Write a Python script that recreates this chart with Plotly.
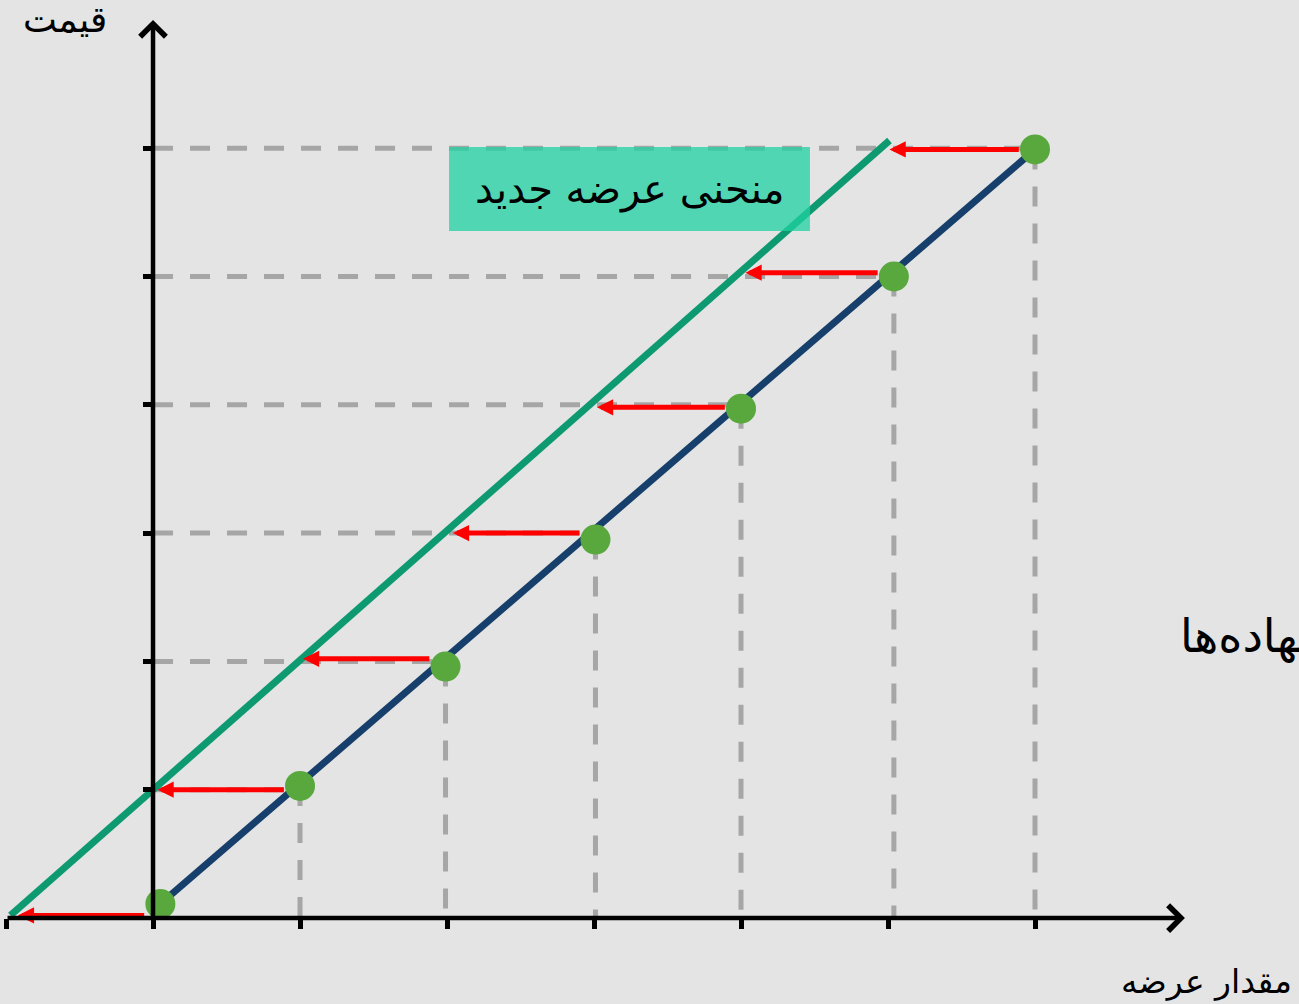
import plotly.graph_objects as go

# ---------------- data ----------------
qty = [0.05, 1.0, 1.99, 3.01, 4.0, 5.04, 6.0]          # old supply points (x)
price = [0.11, 1.03, 1.96, 2.95, 3.97, 5.0, 5.99]      # old supply points (y)
qty_ticks = [-1, 0, 1, 2, 3, 4, 5, 6]
price_ticks = [1, 2, 3, 4, 5, 6]
arrow_price = [0.02, 1.0, 2.02, 3.0, 3.98, 5.03, 5.99]  # y of red shift arrows
new_qty = [-0.92, 0.03, 1.02, 2.04, 3.02, 4.03, 5.01]   # arrow heads on new curve
new_supply_x = [-0.97, 5.01]
new_supply_y = [0.02, 6.06]
x_axis_end = 7.02
y_axis_end = 7.0

label_price = "قیمت"
label_qty = "مقدار عرضه"
label_new = "منحنی عرضه جدید"
label_inputs = "نهاده\u200cها"

# ---------------- layout constants ----------------
W, H = 1299, 1004
XR = [-1.041, 7.796]
YR = [-0.670, 7.155]
BG = "#e4e4e4"
FONT = "DejaVu Sans"


def px(p):
    return p / W


def py(p):
    return 1 - p / H


fig = go.Figure()

dash = "20px,17px"
guide_color = "#a6a6a6"

# horizontal dashed guides at price tick levels
for i, t in enumerate(price_ticks):
    fig.add_trace(go.Scatter(x=[0, qty[i + 1]], y=[t, t], mode="lines",
                             line=dict(color=guide_color, width=5, dash=dash),
                             hoverinfo="skip", showlegend=False))
# vertical dashed guides
for i in range(1, len(qty)):
    fig.add_trace(go.Scatter(x=[qty[i], qty[i]], y=[price[i], 0], mode="lines",
                             line=dict(color=guide_color, width=5, dash=dash),
                             hoverinfo="skip", showlegend=False))

# new supply curve
fig.add_trace(go.Scatter(x=new_supply_x, y=new_supply_y, mode="lines",
                         line=dict(color="#0e9a70", width=7),
                         hoverinfo="skip", showlegend=False))
# old supply curve
fig.add_trace(go.Scatter(x=[qty[0], qty[-1]], y=[price[0], price[-1]], mode="lines",
                         line=dict(color="#173f6b", width=7),
                         hoverinfo="skip", showlegend=False))

annotations = []
# red shift arrows
for i in range(len(qty)):
    annotations.append(dict(
        x=new_qty[i], y=arrow_price[i], ax=qty[i] - 0.1, ay=arrow_price[i],
        xref="x", yref="y", axref="x", ayref="y", text="", showarrow=True,
        arrowhead=2, arrowsize=0.65, arrowwidth=5, arrowcolor="#ff0000"))

# points
fig.add_trace(go.Scatter(x=qty, y=price, mode="markers",
                         marker=dict(color="#58a83e", size=30, line=dict(width=0)),
                         hoverinfo="skip", showlegend=False))

# axes with chevron heads
annotations.append(dict(x=x_axis_end, y=0, ax=qty_ticks[0], ay=0,
                        xref="x", yref="y", axref="x", ayref="y", text="",
                        showarrow=True, arrowhead=4, arrowsize=1.1, arrowwidth=4.5,
                        arrowcolor="black"))
annotations.append(dict(x=0, y=y_axis_end, ax=0, ay=0,
                        xref="x", yref="y", axref="x", ayref="y", text="",
                        showarrow=True, arrowhead=4, arrowsize=1.1, arrowwidth=4.5,
                        arrowcolor="black"))

# text labels
annotations.append(dict(x=px(65), y=py(20), xref="paper", yref="paper",
                        text=label_price, showarrow=False,
                        xanchor="center", yanchor="middle",
                        font=dict(family=FONT, size=36, color="black")))
annotations.append(dict(x=px(1294), y=py(981), xref="paper", yref="paper",
                        text=label_qty, showarrow=False,
                        xanchor="right", yanchor="middle",
                        font=dict(family=FONT, size=33, color="black")))
annotations.append(dict(x=px(1178), y=py(636), xref="paper", yref="paper",
                        text=label_inputs, showarrow=False,
                        xanchor="left", yanchor="middle",
                        font=dict(family=FONT, size=46, color="black")))
annotations.append(dict(x=3.24, y=5.68, xref="x", yref="y",
                        text=label_new, showarrow=False,
                        xanchor="center", yanchor="middle",
                        font=dict(family=FONT, size=40, color="black")))

shapes = [dict(type="rect", xref="x", yref="y", x0=2.014, x1=4.469, y0=5.355, y1=6.01,
               fillcolor="rgba(31,209,161,0.75)", line=dict(width=0), layer="above")]

fig.update_layout(
    width=W, height=H, margin=dict(l=0, r=0, t=0, b=0),
    paper_bgcolor=BG, plot_bgcolor=BG,
    annotations=annotations, shapes=shapes,
    xaxis=dict(range=XR, showgrid=False, zeroline=False, showline=False,
               showticklabels=False, tickmode="array", tickvals=qty_ticks,
               ticks="outside", ticklen=10, tickwidth=4.5, tickcolor="black",
               anchor="free", position=(0 - YR[0]) / (YR[1] - YR[0])),
    yaxis=dict(range=YR, showgrid=False, zeroline=False, showline=False,
               showticklabels=False, tickmode="array", tickvals=price_ticks,
               ticks="outside", ticklen=10, tickwidth=4.5, tickcolor="black",
               anchor="free", position=(0 - XR[0]) / (XR[1] - XR[0])),
)

fig.write_html("out.html",
               config={"displayModeBar": False},
               post_script="document.body.style.margin='0px';"
                           "document.body.style.overflow='hidden';")
